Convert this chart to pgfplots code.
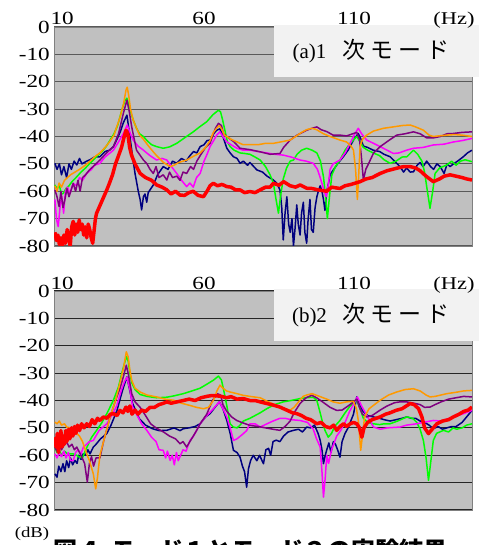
\documentclass[border=0pt]{standalone}
\usepackage{fontspec}
\setmainfont{Liberation Serif}
\newfontfamily\tickfont{Liberation Serif}[FakeStretch=1.25]
\newfontfamily\cjk{Noto Sans CJK JP}
\usepackage{pgfplots}
\pgfplotsset{compat=1.18}

\definecolor{navyc}{RGB}{0,0,128}
\definecolor{orangec}{RGB}{255,153,0}
\definecolor{greenc}{RGB}{0,255,0}
\definecolor{magc}{RGB}{255,0,255}
\definecolor{purpc}{RGB}{128,0,128}
\definecolor{redc}{RGB}{255,0,0}
\definecolor{bgc}{RGB}{192,192,192}
\definecolor{boxc}{RGB}{242,242,242}

\pgfplotsset{panel/.style={
  scale only axis, width=418pt, height=219pt,
  xmin=10, xmax=149.3, ymin=-80, ymax=0,
  axis background/.style={fill=bgc},
  xtick={12.7,60,110}, xticklabels={10,60,110},
  xticklabel pos=upper,
  ytick={-80,-70,...,0},
  yticklabels={-80,-70,-60,-50,-40,-30,-20,-10,0},
  major tick length=0pt,
  ymajorgrids,
  tick label style={font=\tickfont\fontsize{18.5}{18.5}\selectfont},
  xticklabel style={anchor=base, inner sep=0pt, yshift=2pt},
  yticklabel style={anchor=east, inner sep=0pt, xshift=-4pt},
  axis line style={draw=black!50, line width=0.8pt},
  every axis plot/.append style={line width=1.5pt, line join=round},
}}

\begin{document}
\begin{tikzpicture}
\useasboundingbox (0pt,0pt) rectangle (491pt,-545pt);

% (a) 1st mode
\begin{axis}[panel, at={(54pt,-27pt)}, anchor=north west,
  grid style={line width=1.1pt, draw=black!65}]
\addplot[navyc] coordinates {
(10.3,-49.8)(11,-52)(11.8,-50)(12.5,-54)(13.3,-51)(14.2,-55)(15,-50)(15.8,-52)(16.7,-49)(17.6,-50.4)(18.5,-48)(19.3,-50)(20.9,-49)(22,-48.5)(23.5,-47.5)(25.3,-47.4)(27,-45.5)(28.5,-45)(29.8,-43.7)(31,-41)(32.2,-38)(33.1,-35)(34.3,-32.2)(35.3,-40)(35.9,-45)(37,-53.5)(38.1,-60.1)(38.7,-63)(39.2,-66.8)(39.8,-62)(40.3,-61)(40.9,-64)(41.4,-60.5)(42.3,-59)(43.1,-57.7)(44.5,-54)(46.4,-51)(48,-52)(49.5,-49)(50.9,-49.8)(52.5,-48)(54,-49)(55.3,-47)(56.5,-45.5)(57.6,-46)(58.7,-43.7)(60,-43)(61,-41.5)(62,-41.3)(63.2,-39)(64.2,-37.7)(65.3,-37.2)(66.3,-40)(67.6,-44.3)(68.7,-46)(69.8,-47.4)(71,-48)(72,-49.8)(73.1,-49)(74.5,-50.5)(75.3,-49.5)(77.6,-52.2)(79.5,-53)(81,-54.5)(83.1,-55.9)(84.2,-57)(85.3,-59.5)(85.9,-66)(86.4,-77.8)(87,-68)(87.6,-62)(88.2,-72)(88.7,-75)(89.3,-70)(89.8,-80)(90.3,-74)(90.9,-65)(91.4,-72)(92,-76)(92.5,-68)(93.1,-64)(93.6,-75)(94.2,-79)(94.7,-70)(95.3,-63)(95.8,-74)(96.4,-75)(97,-66)(97.6,-62)(98.1,-60)(98.7,-58)(99.3,-60)(99.8,-63)(100.3,-67)(100.9,-60)(101.5,-57)(102,-54)(103.1,-52.2)(104.5,-50)(106.4,-47.4)(108,-45)(109.8,-41.3)(111.4,-38.9)(112.3,-41)(113.1,-43.5)(114.5,-44)(116.4,-45)(118.5,-45.5)(120,-46.5)(122,-47.4)(123.5,-49)(125.3,-51)(126.5,-53)(127.5,-51.5)(128.7,-53)(129.8,-52.9)(131,-50.5)(132,-49.5)(133,-51)(134.2,-49)(135.5,-51)(136.5,-52)(137.6,-50)(138.7,-51)(140,-53.5)(141,-50)(142,-51)(143.1,-50)(144.5,-49)(146.4,-47.4)(147.8,-46)(149.3,-45)
};
\addplot[greenc] coordinates {
(10.3,-57.7)(11,-59)(11.8,-58)(12.5,-61)(13.1,-60.8)(14,-59)(15,-58)(16,-56.5)(17.6,-54.7)(19,-53)(20.5,-51.5)(21.8,-50)(23.1,-48.6)(24.5,-47)(26,-45.5)(27.5,-43.5)(28.7,-41.3)(30,-39)(31.2,-36)(32.6,-30.4)(33.6,-27)(34.3,-26)(35,-29)(36.4,-34)(37.5,-37)(38.5,-39)(39.8,-40)(41,-41.5)(42.5,-43)(44.2,-43.7)(46.4,-44.3)(48.5,-43.8)(50.9,-42.5)(53.5,-40.5)(56.4,-38.3)(58.5,-36.5)(60.9,-34.6)(63,-32)(64.8,-30.4)(65.5,-31)(66.2,-34)(67,-38)(67.8,-42)(68.7,-43.7)(70,-45)(72,-46)(73.5,-46.2)(75.3,-46.5)(77,-47.5)(78.7,-48.6)(80.5,-51)(82,-54)(83.1,-57)(84,-63)(84.8,-68)(85.6,-61)(86.4,-55.5)(87.5,-51.5)(88.7,-49)(89.8,-48.6)(91,-46.5)(92.5,-45)(94.2,-44.3)(96,-45)(97.6,-46)(98.8,-49)(99.8,-54.7)(100.5,-62)(101.1,-70)(101.8,-62)(102.6,-54)(103.8,-51)(105.3,-48.6)(107,-45)(108.7,-42.5)(110.9,-40)(112,-42)(113.1,-44)(114.5,-45)(116.4,-46)(118.5,-47)(120,-48.5)(122,-49.8)(124,-49)(126,-47.5)(127.6,-47.4)(129.8,-45)(131.2,-46.5)(132.6,-49)(133.5,-53)(134.2,-58.3)(135.3,-66.2)(136.2,-60)(137,-53.5)(138.5,-51.5)(140.9,-50.4)(142.5,-49)(144,-50.5)(145.5,-49)(147,-48.5)(149.3,-49.2)
};
\addplot[magc] coordinates {
(10.3,-63)(10.8,-70)(11.4,-72.9)(12,-66)(12.6,-62)(13.2,-68)(13.8,-60)(14.5,-58.5)(15.3,-61)(16.4,-57.1)(17.5,-58)(18.5,-55)(19.5,-56)(20.9,-53.5)(22.5,-52)(23.5,-50.5)(25.3,-49.8)(27,-47.5)(29.8,-45)(31.5,-42)(33.1,-38.9)(34.4,-35.8)(35.5,-39)(36.4,-41.3)(38,-43.5)(39.8,-45)(42,-47)(44.2,-48.6)(46,-48)(47.6,-48.6)(49.5,-51.5)(50.9,-53.5)(52.5,-56)(54.2,-58.3)(55.3,-57)(56.4,-58.5)(57.5,-55)(58.7,-53.5)(60,-49)(61,-46.5)(62,-43.7)(63.2,-41.5)(64.2,-39.5)(65.3,-38.3)(66.3,-40)(67.6,-42)(69,-43)(71,-44.3)(73,-45)(75.3,-45)(78,-45.5)(80.9,-46)(83.5,-46.5)(86.4,-46.8)(89,-47.5)(92,-48.6)(94,-49)(96.4,-49.8)(97.8,-52)(98.7,-55)(99.8,-59)(100.7,-62)(101.5,-57)(102,-52)(103,-50)(105.3,-48.6)(107,-46)(108.7,-42.5)(110,-39.5)(111.4,-37)(112.5,-39)(114.2,-41.3)(116.5,-42.5)(118.7,-43.7)(121,-45)(123.1,-46.2)(125,-46)(127.5,-45)(129.8,-44.3)(133,-44)(136.4,-43.1)(140,-42.8)(143.1,-42)(146,-41.5)(149.3,-40.7)
};
\addplot[purpc] coordinates {
(10.3,-59.5)(11,-62)(11.7,-65.6)(12.3,-60)(13,-66)(13.6,-63.2)(14.3,-59)(15,-62)(16.4,-57.1)(17.2,-60)(18,-56)(18.7,-60)(19.5,-55)(20.5,-54)(21.8,-52.2)(23,-51)(25.3,-48.6)(27.5,-46)(29.8,-43.7)(31.5,-39)(33.1,-31.6)(34.3,-26.7)(35.1,-31)(35.9,-36.5)(37.5,-45)(39.8,-48.6)(41,-50)(42,-52)(43.1,-53.5)(44,-51)(45,-55)(46.4,-54)(47.6,-55.9)(48.5,-53)(49.5,-55)(50.9,-54.5)(52,-56)(53,-53)(54.2,-53.5)(55.5,-51)(56.5,-52)(57.6,-49)(58.7,-47)(60.5,-44)(62,-42.5)(63.8,-37)(64.8,-35.2)(65.8,-36)(66.5,-39)(67.6,-40)(70,-42)(72,-44.3)(75.3,-44.8)(78.7,-45.6)(82,-46.5)(85.3,-46.2)(86.5,-44)(88.7,-41.3)(91,-39.5)(94.2,-37.7)(96,-37)(97.6,-36.5)(99,-37.5)(100.9,-38.2)(103,-39.5)(105.3,-39.5)(107.5,-39.8)(109.8,-38.9)(110.9,-38.5)(111.8,-41)(112.4,-47)(113.1,-55.9)(113.9,-52)(114.8,-50)(116.5,-46)(118.7,-43.7)(121.5,-41.5)(124.2,-39.5)(127,-39)(129.8,-38.3)(132,-39)(134.2,-40.5)(136.5,-40.5)(138.7,-40)(141,-39)(143.1,-38.9)(146,-38.5)(149.3,-38.3)
};
\addplot[orangec] coordinates {
(10.3,-58)(11,-60)(11.7,-57)(12.5,-58.5)(13.5,-56)(14.5,-55)(15.5,-54)(17,-53)(18.5,-52)(19.8,-51)(21,-50)(22.5,-48.5)(24,-47)(25.3,-46)(27,-44)(28.5,-42)(30,-39.5)(30.9,-36.5)(32,-33)(33.2,-28)(34,-23)(34.4,-22)(34.9,-25)(35.5,-30)(36.4,-34)(37.5,-37)(38.5,-39.5)(39.8,-41)(41.5,-43.5)(43,-45.5)(44.2,-47)(46.5,-49.5)(48.7,-51)(50,-50.5)(51.5,-49.5)(53,-49)(54.2,-48.6)(56,-47.5)(58.7,-46)(60.5,-44)(62,-41.5)(63.1,-38.5)(64.2,-37)(65.1,-36)(66,-37.5)(66.8,-39.5)(67.6,-40)(69,-41)(71,-42)(73,-43)(75.3,-43)(78,-43)(80.5,-42.5)(83.1,-42.5)(85.5,-42)(88.7,-41.3)(90.5,-40)(92.5,-38.5)(94.2,-37.5)(96,-37)(97.5,-37.5)(99.8,-39)(102,-40)(105.3,-41.3)(107.5,-42)(109,-43.5)(109.8,-45)(110.5,-52)(111.1,-63)(111.5,-55)(112,-43.7)(112.8,-41)(114.2,-39.5)(116.5,-38)(119.8,-37)(123,-36.5)(126,-36)(128.7,-35.8)(130.5,-36.5)(133.1,-37.7)(135,-39.5)(136.4,-40)(138,-39.8)(140.9,-39.5)(143.5,-39.3)(146,-39.5)(149.3,-40)
};
\addplot[redc, line width=3.5pt] coordinates {
(10.3,-75)(10.8,-78)(11.3,-76)(11.8,-79.5)(12.3,-77)(12.8,-80)(13.3,-76)(13.8,-79)(14.4,-74)(14.9,-77)(15.4,-80)(15.9,-73)(16.4,-71)(16.9,-76)(17.4,-72)(17.9,-75)(18.4,-70.5)(18.9,-74)(19.4,-72)(19.9,-76)(20.4,-73)(20.9,-77)(21.4,-72)(21.9,-74)(22.4,-77)(22.9,-79)(23.4,-74)(23.8,-70)(24.2,-68)(25,-66)(25.8,-64)(26.6,-62)(27.6,-59.5)(28.5,-57)(29.5,-54)(30.5,-50)(31.5,-47)(32.5,-44)(33.4,-40)(34,-37.7)(34.6,-39)(35.2,-44)(35.9,-47)(37,-50)(38.7,-53.5)(40.5,-55)(42.5,-56)(44.2,-57.7)(46,-58.5)(47.6,-59.5)(49,-61)(50.5,-60)(52,-61.4)(53.5,-61.5)(55,-60.5)(56.4,-60)(58,-61.5)(59.8,-62)(61,-60)(62,-58)(63.1,-57.1)(64.5,-58)(66,-57.5)(67.6,-58.3)(69,-58.5)(70.5,-59.5)(72,-59.5)(73.5,-60.5)(75.3,-60.1)(77,-60.5)(78.7,-59.5)(80.5,-58.5)(82,-58.5)(83.1,-57.1)(85,-57.8)(86.5,-56.5)(88.7,-58)(90.5,-58.5)(92,-57.7)(94.2,-58.9)(96,-59)(98,-59.5)(100.9,-60)(102.5,-58.5)(105.3,-59)(107,-58)(109,-57.5)(112,-56.5)(114,-55.5)(116,-55)(118.7,-53.5)(121,-52.5)(124.2,-51.6)(126.5,-51)(128.7,-51)(130.5,-51.5)(132,-52.5)(134,-54.5)(136.4,-56.5)(138.5,-55.5)(140,-54.5)(142,-54)(144,-54.5)(146,-55)(147.5,-55.5)(149.3,-55.9)
};
\end{axis}

% (b) 2nd mode
\begin{axis}[panel, at={(54pt,-291pt)}, anchor=north west,
  grid style={line width=1.1pt, draw=black!85}]
\addplot[navyc] coordinates {
(10.3,-66.8)(11,-68)(11.6,-64)(12.3,-66)(13,-63.1)(13.6,-66)(14.2,-62)(14.9,-64.5)(15.5,-61)(16.2,-63.5)(17,-61.9)(17.7,-63)(18.2,-60)(19,-61.5)(19.7,-59.5)(20.5,-60)(21.3,-58)(22,-59.5)(23.1,-57)(24,-56)(25.5,-54)(27.6,-52.1)(29,-49)(31,-43.6)(32.4,-38)(33.2,-35)(34.3,-31.4)(35,-35)(36.2,-41.1)(38.4,-46.6)(40.5,-49)(42.8,-50.3)(45,-51)(47.6,-50.9)(50,-50)(52,-51)(53.1,-50.3)(55,-50)(57,-49.5)(58.7,-48.5)(60.5,-46)(62,-44.8)(64,-42)(65.1,-40.5)(66.3,-43)(67.6,-47.3)(68.7,-52)(69.8,-58.2)(71,-59)(72,-60.7)(72.8,-64)(73.5,-66)(74.2,-71.7)(74.8,-65)(75.5,-62)(76.4,-60)(77.6,-62)(78.5,-60)(79.8,-63.1)(80.6,-58)(81.5,-57.5)(82.2,-60)(83,-55)(84,-54.5)(85.3,-55)(86.5,-53)(88,-51.5)(89.8,-50.9)(91.5,-50.5)(92.8,-51.5)(94.2,-49.7)(95.5,-50)(96.8,-49)(98,-52)(98.7,-54.5)(99.3,-58)(99.8,-63.1)(100.4,-60)(100.9,-58)(101.6,-55.5)(102.3,-59)(103.1,-55)(103.8,-56)(104.5,-58)(105.3,-60.7)(106,-55)(107,-52)(108,-50)(109.8,-45)(110.9,-38.7)(112,-42)(113,-44)(114.5,-45.5)(116.4,-46)(118.5,-46.5)(120,-47)(122,-47.5)(124,-47)(126,-46.5)(127.6,-46)(129,-46.5)(130.5,-46.5)(132,-47.5)(133.5,-48)(135,-49)(136.4,-50.3)(138,-49.5)(139.5,-50.5)(140.9,-50)(142.5,-49.5)(144,-49.5)(146,-48)(147.5,-46)(149.3,-43.6)
};
\addplot[greenc] coordinates {
(10.3,-57)(11,-59)(11.7,-58)(12.5,-60)(13.5,-58.5)(14.5,-59.5)(16.4,-59.5)(17.5,-60)(18.5,-60.7)(19.5,-61)(20.2,-59)(21,-57)(22.5,-53.5)(24.2,-50.9)(26,-48)(27.6,-44.8)(29.8,-39.9)(31.5,-35)(32.6,-30)(33.6,-26)(34.2,-24)(34.7,-25.5)(35.3,-30)(35.9,-33.5)(37,-36)(38.7,-37.8)(41,-38.5)(44.2,-39)(47.6,-38.8)(50,-38.3)(53.1,-37.5)(56,-36.5)(58.7,-35.5)(61,-34)(63.1,-32.6)(64.8,-31.1)(65.8,-32.5)(66.5,-36)(67.6,-42)(68.7,-48.5)(69.8,-49.7)(71,-50)(72,-49)(73.1,-47.5)(75.3,-46.5)(77,-45.5)(78.7,-44.5)(80.9,-43)(83.5,-41.5)(86.4,-40.5)(89,-40)(92,-39.3)(94,-39)(96.4,-38.8)(97.6,-40)(98.7,-44.5)(99.5,-48)(100.3,-50.9)(101.4,-53.4)(102.5,-52)(103.5,-49.5)(105.3,-47.3)(107,-44.5)(108.7,-42)(110.9,-39.9)(112,-43)(113.1,-46.5)(114.5,-48)(116.4,-48.5)(118.5,-48.8)(120,-48.5)(122,-48.5)(124.5,-47.5)(127.6,-46)(129.5,-46.5)(130.9,-48)(132,-50.5)(133.1,-54.6)(134,-61)(134.8,-69.2)(135.6,-62)(136.4,-54.6)(137.5,-52)(139.8,-50.9)(141.5,-51.5)(143,-50)(144.2,-50.5)(146,-50)(147.5,-49)(149.3,-48.5)
};
\addplot[magc] coordinates {
(10.3,-59.5)(11,-61)(11.7,-59)(12.5,-60.5)(13.3,-58.5)(14,-61)(14.8,-59)(15.5,-62)(16.4,-61.9)(17.2,-59)(18,-58)(19,-59.5)(19.8,-57)(20.9,-56)(21.8,-55)(23.1,-54.6)(25,-51)(27.6,-48.5)(29.5,-45)(30.9,-42)(32.5,-36)(33.5,-33)(34.3,-31.5)(35.3,-36)(36.2,-42.4)(37.5,-45)(39.2,-48.5)(41,-51)(42.5,-53.4)(44,-55)(45,-58)(46.4,-58.2)(47.2,-61)(47.8,-58.5)(48.7,-61.9)(49.4,-60)(50.1,-63.5)(50.8,-59)(51.4,-62)(52,-60.5)(53,-58)(54,-58.5)(55.3,-54.6)(56.5,-53)(58.7,-48.5)(60.5,-46)(63.1,-43)(65.1,-40.5)(66.3,-43)(67.6,-46)(68.7,-50)(69.8,-54.6)(71,-54)(73.1,-52.1)(74.2,-51)(75.3,-48.5)(77,-48.5)(78.7,-49.7)(81,-48.5)(83,-47.5)(85.3,-46.5)(87,-46.5)(89,-47)(92,-47.3)(94.5,-48)(96.4,-50.5)(97.5,-54)(98.7,-57)(99.3,-66)(99.8,-75.3)(100.4,-68)(100.9,-60)(101.5,-63)(102.5,-58)(104.2,-53)(105.5,-51)(107,-48)(108.5,-44)(110,-41)(111.1,-38.7)(112.5,-42)(114,-45)(116.5,-49.7)(118.7,-50.5)(121,-50)(125.3,-49.7)(127.5,-49)(130.9,-48.5)(133,-48)(136.4,-47.3)(139,-47.5)(143.1,-46)(146,-45)(149.3,-43.6)
};
\addplot[purpc] coordinates {
(10.3,-57)(11,-58.5)(11.8,-56.5)(12.5,-58)(13.5,-56)(14.2,-55)(15,-57)(16,-56)(16.8,-58)(17.6,-57)(18.5,-59)(19.4,-61)(20.2,-63)(21.1,-69.8)(21.8,-63)(22.5,-60.5)(23.2,-64)(24,-61)(25.3,-61)(26.5,-55)(28.7,-46)(30.5,-40)(32,-35.5)(33.2,-31)(34.1,-27.1)(34.8,-30.5)(35.9,-37.5)(37,-40.5)(38.7,-42.5)(40.5,-45.5)(42.2,-48.5)(44,-50)(46.5,-51.5)(48.5,-53)(50.5,-54)(52,-55.8)(53,-55)(54.2,-57)(55.3,-55)(56.4,-53)(57.5,-51)(58.7,-48.5)(60.9,-45)(62.8,-40)(64.4,-37.5)(65.5,-38)(66.3,-41.5)(67.6,-44)(69.2,-46)(70.9,-47.3)(72.5,-48)(75.3,-49.1)(78,-49.5)(80.5,-50)(83,-50.5)(85.3,-50.9)(87,-49.5)(88.7,-47.5)(90,-44.5)(92,-41.1)(94,-39)(95.9,-38.1)(97.5,-39)(99.5,-40.5)(102,-42.5)(104.2,-43.6)(106,-43.5)(108,-42)(109.8,-40.5)(110.9,-39.5)(111.8,-42.5)(112.8,-45)(114.2,-46)(116,-45.5)(118.7,-43.5)(121,-42)(123.5,-40.8)(125.3,-40.5)(127.5,-40.5)(130,-41)(132,-41.5)(133.5,-42.5)(135.3,-42.4)(137,-41.5)(139,-40.5)(141.5,-39.5)(144,-39)(146.5,-38.5)(149.3,-38.7)
};
\addplot[orangec] coordinates {
(10.3,-47.9)(11,-48.5)(11.8,-47.5)(12.5,-49)(13.5,-48.5)(14.2,-49.7)(15.5,-50)(17,-51)(17.6,-52.1)(18.5,-53)(19.5,-55)(20.9,-59.5)(21.8,-62)(23.1,-66.8)(23.9,-72.3)(24.5,-68)(25.3,-60)(26.5,-55)(28.7,-46)(30.5,-40)(32,-33.5)(33.2,-28)(34.1,-22.2)(34.7,-24)(35.3,-29)(35.9,-32.6)(37,-35.5)(38.7,-36.9)(41,-38)(44.2,-38.7)(47,-39.5)(49.8,-39.9)(52.5,-41)(55.3,-41.8)(57.5,-42.5)(59.8,-43)(61.5,-42.5)(63.1,-40)(64.3,-36.5)(65.3,-34.4)(66.3,-35.5)(67.5,-36.5)(68.7,-36.9)(71,-37.5)(73,-38.1)(75.3,-38.5)(78.7,-39)(81.5,-40.5)(83.5,-41.5)(85.3,-42.4)(87,-43)(88.7,-43.5)(90,-42.5)(91.5,-40.5)(93,-38.5)(94.2,-38)(96,-37.5)(98.5,-38.5)(100.9,-39.5)(103,-40.5)(105.3,-41)(107.5,-40.5)(109.8,-40.3)(110.8,-43)(111.5,-48)(112.2,-58.2)(112.9,-52)(113.5,-46)(115,-43)(118.7,-39.9)(121.5,-38)(124.2,-36.9)(127,-36)(129.8,-35.7)(132,-36.5)(134,-38)(135.3,-38.7)(137,-38.5)(140.9,-37.5)(144,-37)(146.5,-36.5)(149.3,-36.3)
};
\addplot[redc, line width=3.5pt] coordinates {
(10.3,-53.4)(10.7,-57)(11.1,-52)(11.5,-59)(11.9,-55)(12.3,-51)(12.7,-57)(13.1,-53)(13.5,-56)(13.9,-51)(14.3,-55)(14.8,-50.5)(15.3,-54)(15.8,-50)(16.3,-53)(16.8,-49.5)(17.3,-52)(17.8,-49)(18.5,-51)(19.2,-48.5)(20,-50)(20.9,-48.5)(21.8,-49.5)(22.7,-47)(23.6,-48.5)(24.5,-46.5)(25.3,-47.3)(26.5,-46)(27.6,-46.5)(28.8,-45)(29.8,-44.8)(31,-45.5)(32,-43.6)(33,-44.5)(34,-42.4)(34.6,-44)(35.3,-42)(36,-45)(37,-43.5)(38,-45)(39.2,-43.5)(40.5,-44)(42,-42.5)(43.5,-42.5)(45,-41.5)(46.5,-41)(47.6,-40.5)(49,-41)(51,-40.5)(53.1,-40)(55,-39.5)(57,-40)(59,-39)(60.9,-38.5)(62.5,-38.2)(64.2,-38.3)(65.8,-38.5)(67.5,-39)(69,-38.6)(71,-39.5)(73.1,-39.3)(75.3,-40)(77,-40)(78.7,-40.5)(80.5,-41)(82.5,-41.5)(85.3,-42.4)(87.5,-43.5)(89.5,-44.5)(90.9,-44.8)(92.5,-45.5)(94,-46.5)(95.5,-47)(97.6,-48.5)(99,-48)(100.5,-49.5)(102,-50)(103.2,-49)(104.2,-50.9)(105.3,-49.5)(106.5,-48.5)(107.5,-49.5)(108.7,-48.5)(109.8,-48)(110.9,-48.5)(111.8,-50)(112.6,-53.4)(113.3,-50)(114.5,-48)(116,-47)(118.7,-46)(120.5,-45)(122,-44.5)(124,-43.6)(126,-43)(128.7,-41.1)(130,-41.5)(131.5,-43)(132.6,-46)(133.5,-50)(134.8,-52.1)(136,-50.5)(137.6,-48.5)(139.5,-47.5)(141.5,-47)(143.1,-46)(145,-45)(146.5,-44)(148,-43.5)(149.3,-42.4)
};
\end{axis}

% mode labels
\fill[boxc] (274pt,-25pt) rectangle (479pt,-77pt);
\node at (371pt,-51pt) {\fontsize{21}{21}\selectfont (a)1\hspace{16pt}{\cjk\fontsize{23}{23}\selectfont 次\hspace{5pt}モ\hspace{5pt}ー\hspace{5pt}ド}};
\fill[boxc] (274pt,-289pt) rectangle (479pt,-341pt);
\node at (371pt,-315pt) {\fontsize{21}{21}\selectfont (b)2\hspace{16pt}{\cjk\fontsize{23}{23}\selectfont 次\hspace{5pt}モ\hspace{5pt}ー\hspace{5pt}ド}};

% units
\node[anchor=base, inner sep=0pt] at (454pt,-25pt) {\tickfont\fontsize{18}{18}\selectfont (Hz)};
\node[anchor=base, inner sep=0pt] at (454pt,-289pt) {\tickfont\fontsize{18}{18}\selectfont (Hz)};
\node[anchor=base, inner sep=0pt] at (32pt,-537pt) {\tickfont\fontsize{15}{15}\selectfont (dB)};

% caption, cut off at the bottom edge as in the source
\node[anchor=base west, inner sep=0pt] at (53pt,-559pt) {\cjk\bfseries\fontsize{24}{24}\selectfont 図４\hspace{10pt}モード１とモード２の実験結果};
\end{tikzpicture}
\end{document}
